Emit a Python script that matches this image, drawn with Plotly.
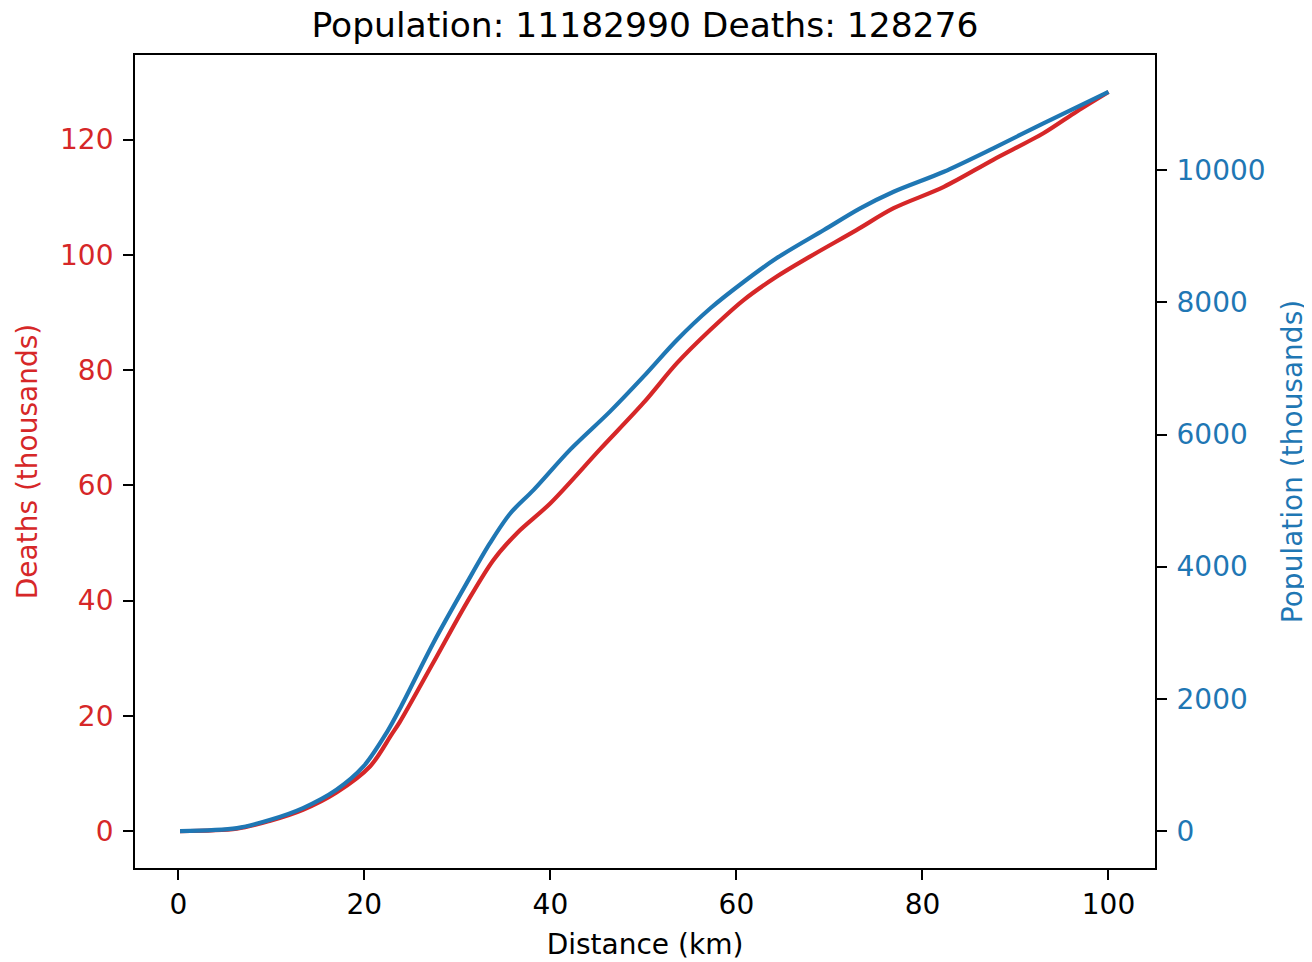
import plotly.graph_objects as go

# Deaths (thousands) vs distance (km)
death_dist = [0.18, 6.3, 9.9, 13.4, 17.0, 20.6, 22.9, 23.8, 27.4, 31.0, 33.9, 36.4, 40.0,
              45.3, 50.0, 53.6, 57.2, 60.8, 64.3, 67.9, 72.9, 76.9, 82.3, 87.6, 93.0, 96.6, 100.0]
deaths_k = [0.0, 0.4, 1.8, 3.7, 6.7, 11.2, 16.7, 18.9, 29.2, 39.6, 47.1, 51.7, 56.9,
            66.2, 74.3, 81.2, 87.0, 92.2, 96.2, 99.7, 104.3, 108.1, 111.8, 116.5, 121.1, 124.9, 128.276]

# Population (thousands) vs distance (km)
pop_dist = [0.18, 6.3, 9.9, 13.4, 17.0, 19.9, 22.4, 24.0, 27.4, 31.0, 33.5, 35.7, 38.2,
            42.1, 46.4, 50.0, 53.6, 57.2, 60.8, 64.3, 69.4, 73.3, 76.9, 82.3, 87.6, 93.0, 100.0]
pop_k = [0, 45, 171, 348, 625, 977, 1490, 1900, 2843, 3751, 4356, 4809, 5162,
         5767, 6346, 6875, 7430, 7910, 8312, 8666, 9094, 9422, 9673, 9976, 10330, 10708, 11182.99]

x_ticks = [0, 20, 40, 60, 80, 100]
left_ticks = [0, 20, 40, 60, 80, 100, 120]
right_ticks = [0, 2000, 4000, 6000, 8000, 10000]

title_text = "Population: 11182990 Deaths: 128276"
RED = "#d62728"
BLUE = "#1f77b4"
FONT = "DejaVu Sans"

fig = go.Figure()
fig.add_trace(go.Scatter(x=death_dist, y=deaths_k, mode="lines",
                         line=dict(color=RED, width=4.2, shape="spline", smoothing=0.9),
                         yaxis="y", showlegend=False))
fig.add_trace(go.Scatter(x=pop_dist, y=pop_k, mode="lines",
                         line=dict(color=BLUE, width=4.2, shape="spline", smoothing=0.9),
                         yaxis="y2", showlegend=False))

dmax = max(deaths_k)
pmax = max(pop_k)

fig.update_layout(
    width=1312, height=962,
    margin=dict(l=127, r=165, t=47, b=102),
    paper_bgcolor="white", plot_bgcolor="white",
    font=dict(family=FONT, size=28, color="black"),
    title=dict(text=title_text, x=0.4855, xanchor="center", y=1 - 17 / 962,
               yanchor="middle", yref="container", font=dict(size=34.5, color="black")),
    xaxis=dict(range=[-4.66, 105.0], tickvals=x_ticks, ticks="outside", ticklen=10, tickwidth=1.6,
               tickcolor="black", showline=True, linecolor="black", linewidth=1.8, mirror=True,
               showgrid=False, zeroline=False,
               title=dict(text="Distance (km)", font=dict(size=28), standoff=15),
               tickfont=dict(size=28, color="black")),
    yaxis=dict(range=[-0.05 * dmax, 1.05 * dmax], tickvals=left_ticks, ticks="outside", ticklen=10,
               tickwidth=1.6, tickcolor="black", showline=True, linecolor="black", linewidth=1.8,
               showgrid=False, zeroline=False, ticklabelstandoff=4,
               title=dict(text="Deaths (thousands)", font=dict(size=28, color=RED), standoff=14),
               tickfont=dict(size=28, color=RED)),
    yaxis2=dict(range=[-0.05 * pmax, 1.05 * pmax], tickvals=right_ticks, tickformat="d",
                overlaying="y", side="right", ticks="outside", ticklen=10, tickwidth=1.6,
                tickcolor="black", showline=True, linecolor="black", linewidth=1.8,
                showgrid=False, zeroline=False, ticklabelstandoff=4,
                title=dict(text="Population (thousands)", font=dict(size=28, color=BLUE), standoff=18),
                tickfont=dict(size=28, color=BLUE)),
)

fig.write_html("out.html")
